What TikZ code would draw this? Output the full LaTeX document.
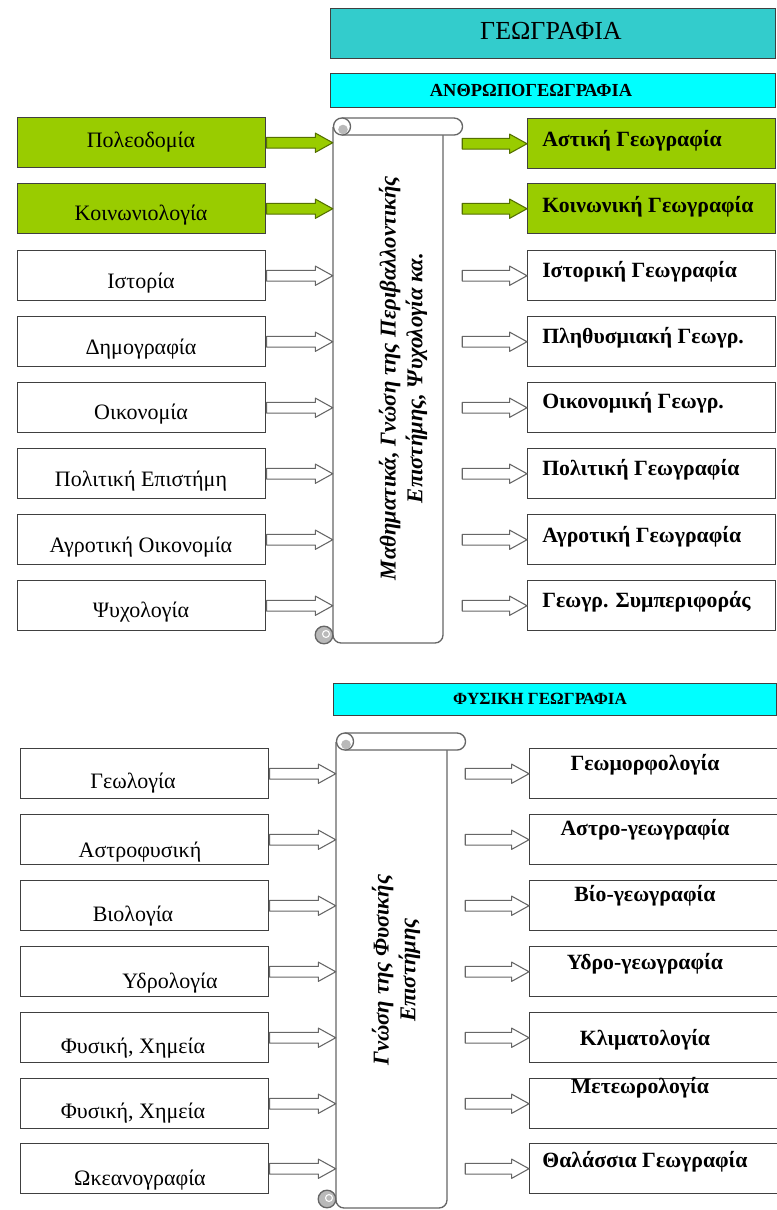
\documentclass[tikz,border=0pt]{standalone}
\usepackage{fontspec}
\setmainfont{Liberation Serif}
\usetikzlibrary{calc,fit}
\definecolor{geoTeal}{RGB}{51,204,204}
\definecolor{geoCyan}{RGB}{0,255,255}
\definecolor{geoGreen}{RGB}{153,204,0}
\definecolor{boxLine}{RGB}{64,64,64}
\definecolor{curlGray}{RGB}{185,185,185}

\tikzset{
  srcbox/.style={draw=boxLine, line width=1.1pt, minimum width=186pt, minimum height=37.5pt, inner sep=0, anchor=north west},
  greenbox/.style={srcbox, fill=geoGreen},
  headbox/.style={draw=boxLine, line width=1.1pt, inner sep=0, anchor=north west},
  srclabel/.style={font=\fontsize{16.5}{19}\selectfont, inner sep=0},
  fieldlabel/.style={font=\bfseries\fontsize{16.3}{19}\selectfont, inner sep=0},
  scrolltext/.style={rotate=90, align=center, font=\bfseries\itshape\fontsize{17}{20}\selectfont},
  scrollline/.style={draw=black!60, line width=1pt},
  hollowarrow/.style={draw=black!60, line width=0.8pt, fill=white, line join=round},
  greenarrow/.style={draw=geoGreen!55!black, line width=0.8pt, fill=geoGreen, line join=round},
}

% block arrow from #2 to #3 (same height)
\newcommand{\fatarrow}[3][hollowarrow]{%
  \draw[#1] let \p1=(#2), \p2=(#3) in
    (\x1,\y1+4pt) -- (\x2-13pt,\y1+4pt) -- (\x2-13pt,\y1+7.2pt) -- (\x2,\y1)
    -- (\x2-13pt,\y1-7.2pt) -- (\x2-13pt,\y1-4pt) -- (\x1,\y1-4pt) -- cycle;}

\begin{document}
\begin{tikzpicture}[x=0.75pt, y=-0.75pt]
  \useasboundingbox (0,0) rectangle (777,1210);

  % Headings
  \node[headbox, fill=geoTeal, minimum width=333.75pt, minimum height=37.5pt] (geo) at (330,8) {};
  \node[font=\fontsize{19.5}{22}\selectfont] (geo-txt) at (551,31) {ΓΕΩΓΡΑΦΙΑ};
  \node[headbox, fill=geoCyan, minimum width=333.75pt, minimum height=25.5pt] (anthro) at (330,73) {};
  \node[font=\bfseries\fontsize{13.8}{16}\selectfont] (anthro-txt) at (531,90) {ΑΝΘΡΩΠΟΓΕΩΓΡΑΦΙΑ};

  % Scroll of human geography
  \draw[scrollline, fill=white, rounded corners=6pt] (333,127) -- (333,643) -- (443,643) -- (443,127);
  \draw[scrollline, fill=white] (342,118) -- (454,118) arc[start angle=90, end angle=-90, radius=6.4pt] -- (342,135);
  \draw[scrollline, fill=white] (342,126.5) circle[radius=6.4pt];
  \fill[curlGray] (343,129.5) circle[radius=3.6pt];
  \draw[scrollline, fill=curlGray] (324,635) circle[radius=6.6pt];
  \draw[white, line width=0.8pt] (326,634) circle[radius=2.6pt];
  \node[fit={(333,118) (443,643)}, inner sep=0] (scrollA) {};
  \node[fit={(333,118) (462,135)}, inner sep=0] (rollA) {};
  \node[scrolltext] (scrollA-txt) at (403,378)
    {Μαθηματικά, Γνώση της Περιβαλλοντικής\\Επιστήμης, Ψυχολογία κα.};

  % Sciences on the left
  \node[greenbox] (h1) at (17,117) {};
  \node[greenbox] (h2) at (17,183) {};
  \node[srcbox] (h3) at (17,250) {};
  \node[srcbox] (h4) at (17,316) {};
  \node[srcbox] (h5) at (17,382) {};
  \node[srcbox] (h6) at (17,448) {};
  \node[srcbox] (h7) at (17,514) {};
  \node[srcbox] (h8) at (17,580) {};
  \node[srclabel] (h1-txt) at (141,142) {Πολεοδομία};
  \node[srclabel] (h2-txt) at (141,215) {Κοινωνιολογία};
  \node[srclabel] (h3-txt) at (141,283) {Ιστορία};
  \node[srclabel] (h4-txt) at (141,349) {Δημογραφία};
  \node[srclabel] (h5-txt) at (141,414) {Οικονομία};
  \node[srclabel] (h6-txt) at (141,481) {Πολιτική Επιστήμη};
  \node[srclabel] (h7-txt) at (141,547) {Αγροτική Οικονομία};
  \node[srclabel] (h8-txt) at (141,612) {Ψυχολογία};

  % Branches on the right
  \node[greenbox] (g1) at (527,118) {};
  \node[greenbox] (g2) at (527,183) {};
  \node[srcbox] (g3) at (527,250) {};
  \node[srcbox] (g4) at (527,316) {};
  \node[srcbox] (g5) at (527,382) {};
  \node[srcbox] (g6) at (527,448) {};
  \node[srcbox] (g7) at (527,514) {};
  \node[srcbox] (g8) at (527,580) {};
  \node[fieldlabel, anchor=west] (g1-txt) at (542,141) {Αστική Γεωγραφία};
  \node[fieldlabel, anchor=west] (g2-txt) at (542,207) {Κοινωνική Γεωγραφία};
  \node[fieldlabel, anchor=west] (g3-txt) at (542,272) {Ιστορική Γεωγραφία};
  \node[fieldlabel, anchor=west] (g4-txt) at (542,338) {Πληθυσμιακή Γεωγρ.};
  \node[fieldlabel, anchor=west] (g5-txt) at (542,403) {Οικονομική Γεωγρ.};
  \node[fieldlabel, anchor=west] (g6-txt) at (542,470) {Πολιτική Γεωγραφία};
  \node[fieldlabel, anchor=west] (g7-txt) at (542,537) {Αγροτική Γεωγραφία};
  \node[fieldlabel, anchor=west] (g8-txt) at (542,602) {Γεωγρ. Συμπεριφοράς};

  % Arrows
  \fatarrow[greenarrow]{h1.east}{scrollA.west |- h1.east}
  \fatarrow[greenarrow]{h2.east}{scrollA.west |- h2.east}
  \fatarrow{h3.east}{scrollA.west |- h3.east}
  \fatarrow{h4.east}{scrollA.west |- h4.east}
  \fatarrow{h5.east}{scrollA.west |- h5.east}
  \fatarrow{h6.east}{scrollA.west |- h6.east}
  \fatarrow{h7.east}{scrollA.west |- h7.east}
  \fatarrow{h8.east}{scrollA.west |- h8.east}
  \fatarrow[greenarrow]{rollA.east |- g1.west}{g1.west}
  \fatarrow[greenarrow]{rollA.east |- g2.west}{g2.west}
  \fatarrow{rollA.east |- g3.west}{g3.west}
  \fatarrow{rollA.east |- g4.west}{g4.west}
  \fatarrow{rollA.east |- g5.west}{g5.west}
  \fatarrow{rollA.east |- g6.west}{g6.west}
  \fatarrow{rollA.east |- g7.west}{g7.west}
  \fatarrow{rollA.east |- g8.west}{g8.west}

  % Physical geography
  \node[headbox, fill=geoCyan, minimum width=332.25pt, minimum height=24pt] (phys) at (333,683) {};
  \node[font=\bfseries\fontsize{12.8}{15}\selectfont] (phys-txt) at (540,699) {ΦΥΣΙΚΗ ΓΕΩΓΡΑΦΙΑ};

  \draw[scrollline, fill=white, rounded corners=6pt] (336,742) -- (336,1208) -- (447,1208) -- (447,742);
  \draw[scrollline, fill=white] (345,733) -- (457,733) arc[start angle=90, end angle=-90, radius=6.4pt] -- (345,750);
  \draw[scrollline, fill=white] (345,741.5) circle[radius=6.4pt];
  \fill[curlGray] (346,744.5) circle[radius=3.6pt];
  \draw[scrollline, fill=curlGray] (327,1199) circle[radius=6.6pt];
  \draw[white, line width=0.8pt] (329,1198) circle[radius=2.6pt];
  \node[fit={(336,733) (447,1208)}, inner sep=0] (scrollB) {};
  \node[fit={(336,733) (465,750)}, inner sep=0] (rollB) {};
  \node[scrolltext] (scrollB-txt) at (396,970) {Γνώση της Φυσικής\\Επιστήμης};

  \node[srcbox] (p1) at (20,748) {};
  \node[srcbox] (p2) at (20,814) {};
  \node[srcbox] (p3) at (20,880) {};
  \node[srcbox] (p4) at (20,946) {};
  \node[srcbox] (p5) at (20,1012) {};
  \node[srcbox] (p6) at (20,1078) {};
  \node[srcbox] (p7) at (20,1143) {};
  \node[srclabel] (p1-txt) at (133,783) {Γεωλογία};
  \node[srclabel] (p2-txt) at (140,852) {Αστροφυσική};
  \node[srclabel] (p3-txt) at (133,916) {Βιολογία};
  \node[srclabel] (p4-txt) at (170,983) {Υδρολογία};
  \node[srclabel] (p5-txt) at (133,1048) {Φυσική, Χημεία};
  \node[srclabel] (p6-txt) at (133,1113) {Φυσική, Χημεία};
  \node[srclabel] (p7-txt) at (140,1180) {Ωκεανογραφία};

  \node[srcbox] (q1) at (529,748) {};
  \node[srcbox] (q2) at (529,814) {};
  \node[srcbox] (q3) at (529,880) {};
  \node[srcbox] (q4) at (529,946) {};
  \node[srcbox] (q5) at (529,1012) {};
  \node[srcbox] (q6) at (529,1078) {};
  \node[srcbox] (q7) at (529,1143) {};
  \node[fieldlabel] (q1-txt) at (645,765) {Γεωμορφολογία};
  \node[fieldlabel] (q2-txt) at (645,830) {Αστρο-γεωγραφία};
  \node[fieldlabel] (q3-txt) at (645,896) {Βίο-γεωγραφία};
  \node[fieldlabel] (q4-txt) at (645,964) {Υδρο-γεωγραφία};
  \node[fieldlabel] (q5-txt) at (645,1040) {Κλιματολογία};
  \node[fieldlabel] (q6-txt) at (640,1088) {Μετεωρολογία};
  \node[fieldlabel] (q7-txt) at (645,1162) {Θαλάσσια Γεωγραφία};

  \fatarrow{p1.east}{scrollB.west |- p1.east}
  \fatarrow{p2.east}{scrollB.west |- p2.east}
  \fatarrow{p3.east}{scrollB.west |- p3.east}
  \fatarrow{p4.east}{scrollB.west |- p4.east}
  \fatarrow{p5.east}{scrollB.west |- p5.east}
  \fatarrow{p6.east}{scrollB.west |- p6.east}
  \fatarrow{p7.east}{scrollB.west |- p7.east}
  \fatarrow{rollB.east |- q1.west}{q1.west}
  \fatarrow{rollB.east |- q2.west}{q2.west}
  \fatarrow{rollB.east |- q3.west}{q3.west}
  \fatarrow{rollB.east |- q4.west}{q4.west}
  \fatarrow{rollB.east |- q5.west}{q5.west}
  \fatarrow{rollB.east |- q6.west}{q6.west}
  \fatarrow{rollB.east |- q7.west}{q7.west}
\end{tikzpicture}
\end{document}
